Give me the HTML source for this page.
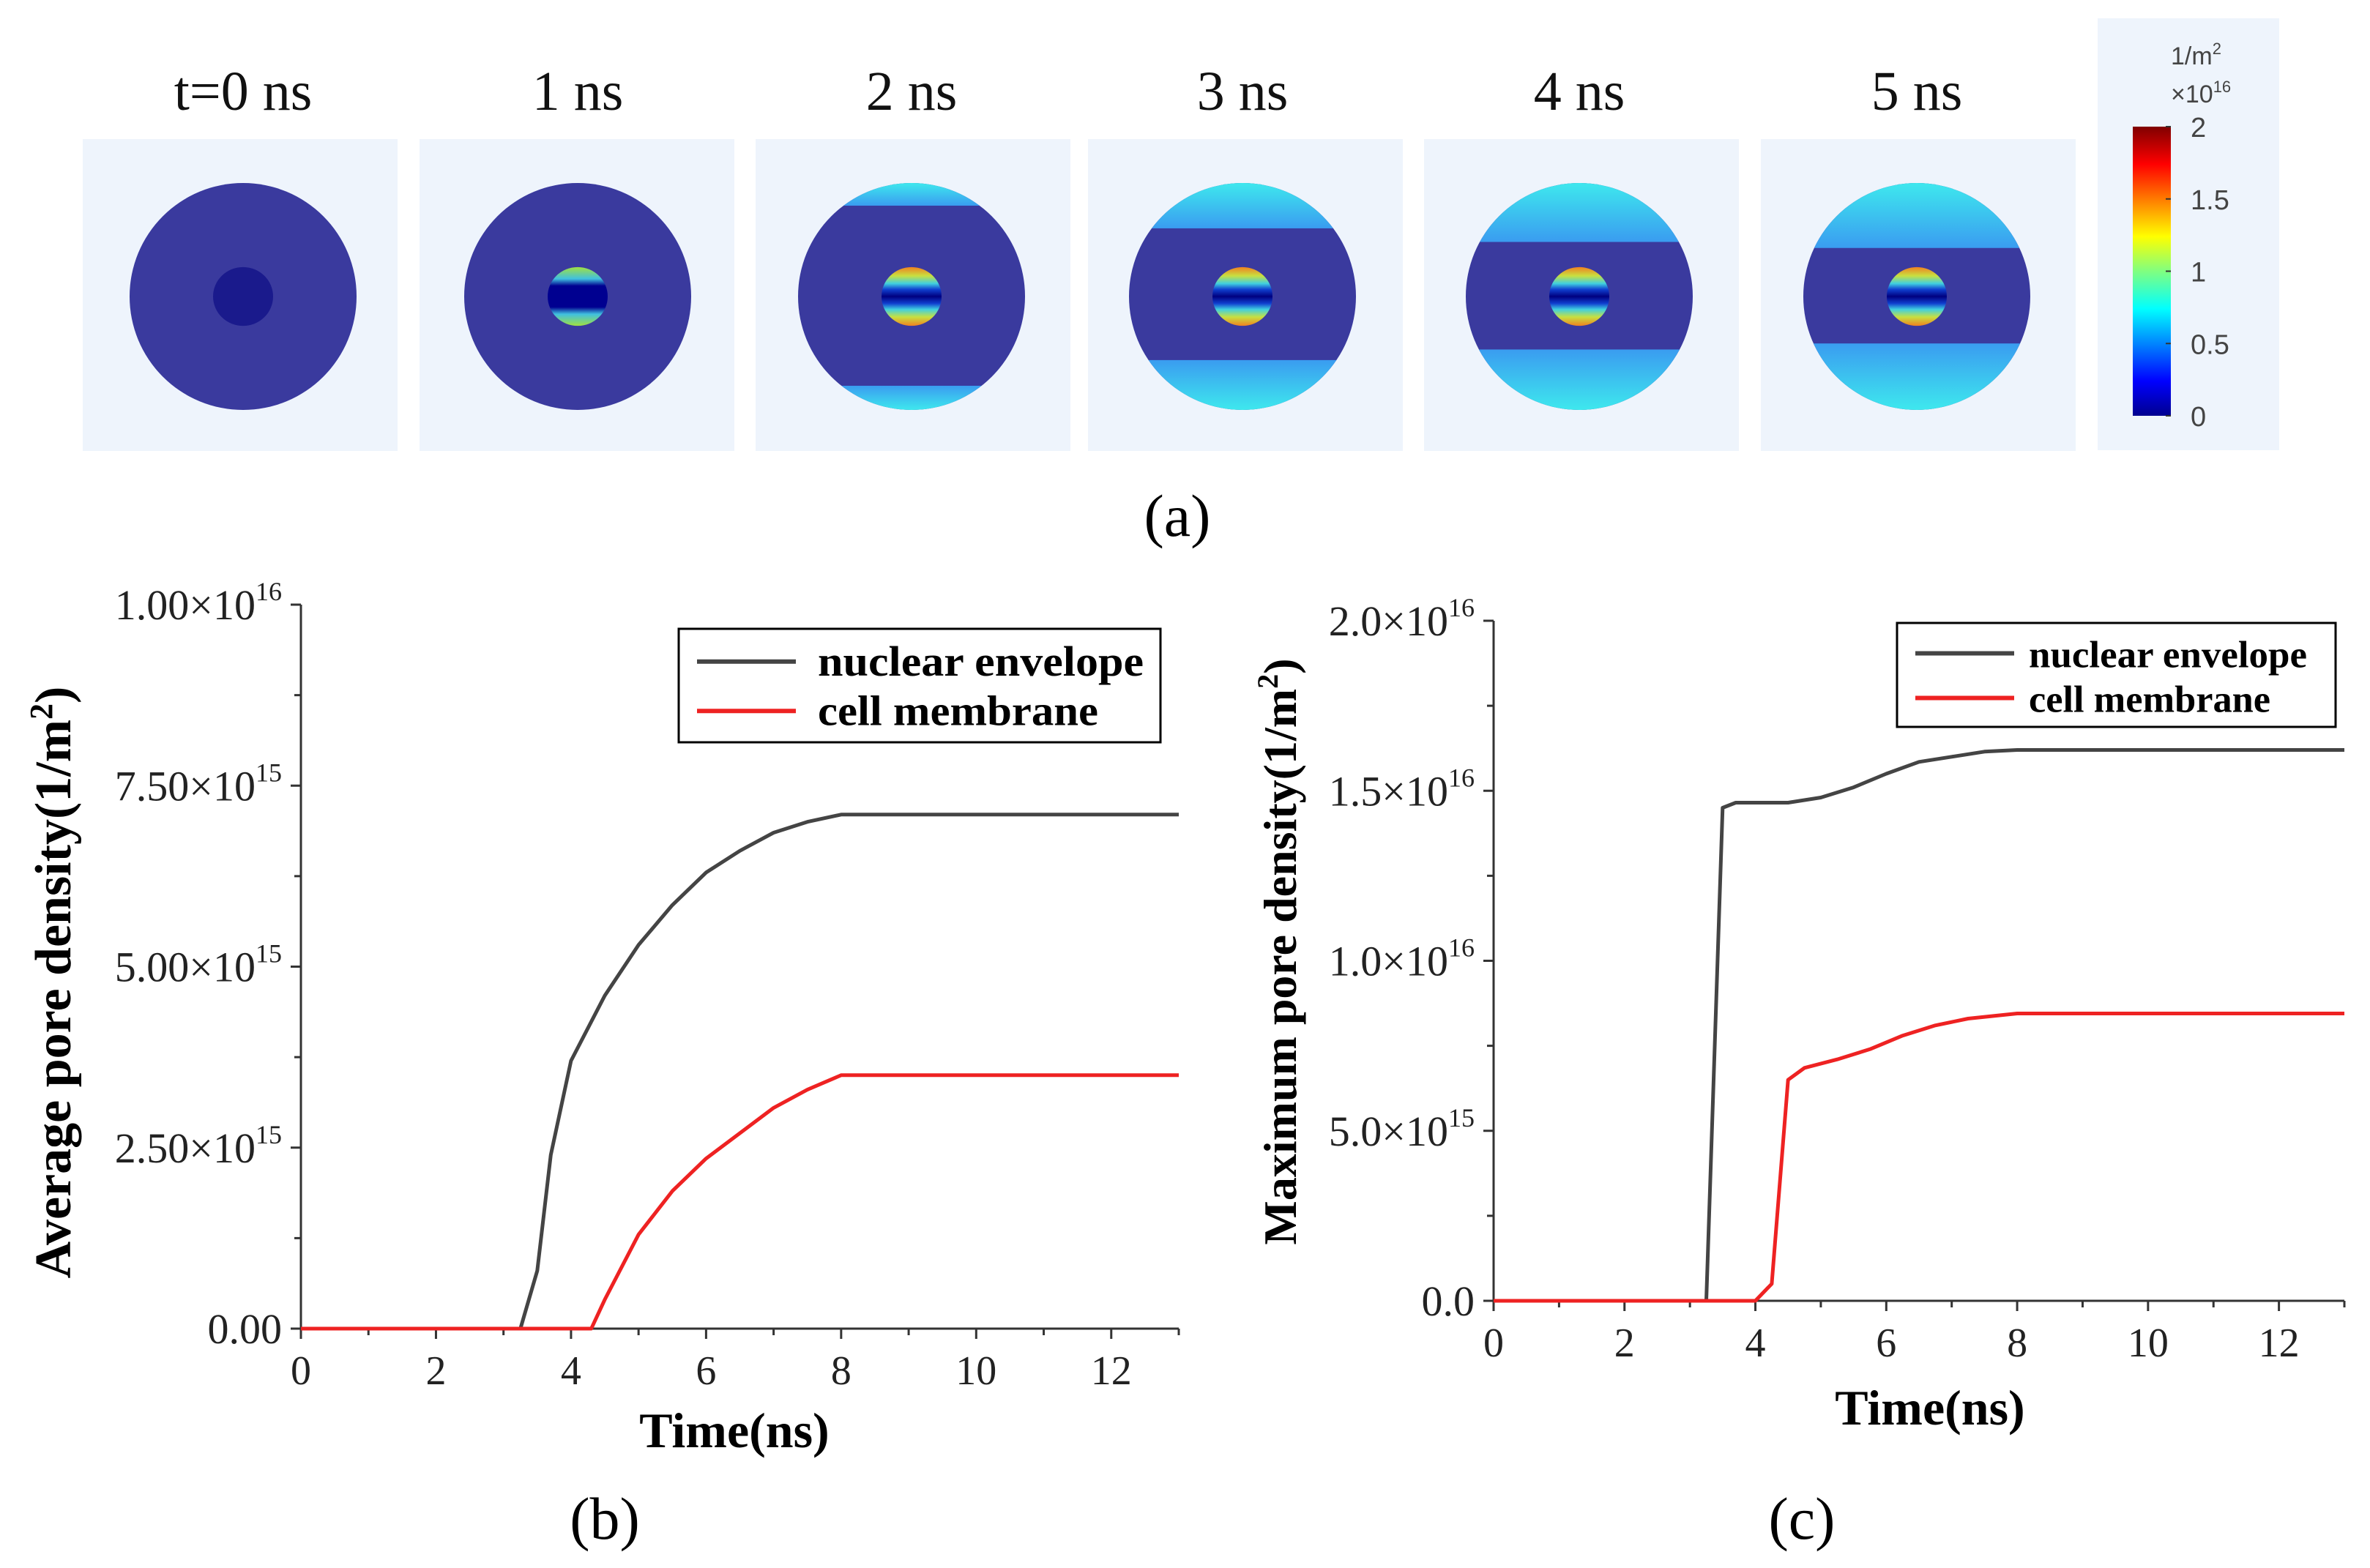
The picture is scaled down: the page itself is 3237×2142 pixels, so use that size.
<!DOCTYPE html>
<html><head><meta charset="utf-8"><style>
html,body{margin:0;padding:0;background:#fff}
svg{display:block;font-family:"Liberation Serif",serif}
text{font-family:"Liberation Serif",serif}
</style></head><body>
<svg id="fig" width="3237" height="2142" viewBox="0 0 3237 2142" xmlns="http://www.w3.org/2000/svg">
<defs>
<linearGradient id="jet" x1="0" y1="1" x2="0" y2="0">
<stop offset="0" stop-color="#00008f"/><stop offset="0.12" stop-color="#0000ff"/><stop offset="0.37" stop-color="#00ffff"/><stop offset="0.5" stop-color="#80ff80"/><stop offset="0.62" stop-color="#ffff00"/><stop offset="0.87" stop-color="#ff0000"/><stop offset="1" stop-color="#800000"/>
</linearGradient>
<linearGradient id="capTop" x1="0" y1="0" x2="0" y2="1"><stop offset="0" stop-color="#3ee8ee"/><stop offset="1" stop-color="#3a9cf0"/></linearGradient>
<linearGradient id="capBot" x1="0" y1="1" x2="0" y2="0"><stop offset="0" stop-color="#3ee8ee"/><stop offset="1" stop-color="#3a9cf0"/></linearGradient>
<linearGradient id="nuc" x1="0" y1="0" x2="0" y2="1">
<stop offset="0" stop-color="#f08020"/><stop offset="0.15" stop-color="#c8e040"/><stop offset="0.28" stop-color="#40d0e0"/><stop offset="0.38" stop-color="#1040d0"/><stop offset="0.5" stop-color="#000080"/><stop offset="0.62" stop-color="#1040d0"/><stop offset="0.72" stop-color="#40d0e0"/><stop offset="0.85" stop-color="#c8e040"/><stop offset="1" stop-color="#f08020"/>
</linearGradient>
<linearGradient id="nuc1" x1="0" y1="0" x2="0" y2="1">
<stop offset="0" stop-color="#a0e040"/><stop offset="0.2" stop-color="#40c0e0"/><stop offset="0.32" stop-color="#000090"/><stop offset="0.68" stop-color="#000090"/><stop offset="0.8" stop-color="#40c0e0"/><stop offset="1" stop-color="#a0e040"/>
</linearGradient>
</defs>
<g id="panelA"></g>
<g id="panelB"></g>
<g id="panelC"></g>
</svg>
<script>
// Panel (a) snapshot data
const snapLabels = ["t=0 ns","1 ns","2 ns","3 ns","4 ns","5 ns"];
const capTopDepth = [0, 0, 15, 30, 39, 43];
const capBotDepth = [0, 0, 16, 33, 40, 44];
// Panel (b)
const timeB = [0,3.25,3.5,3.7,4,4.5,5,5.5,6,6.5,7,7.5,8,13];
const nucB  = [0,0,0.8,2.4,3.7,4.6,5.3,5.85,6.3,6.6,6.85,7.0,7.1,7.1];
const timeBc= [0,4.3,4.5,5,5.5,6,6.5,7,7.5,8,13];
const cellB = [0,0,0.4,1.3,1.9,2.35,2.7,3.05,3.3,3.5,3.5];
const yTicksB = [0,2.5,5,7.5,10];
const yLabelsB = [["0.00",""],["2.50×10","15"],["5.00×10","15"],["7.50×10","15"],["1.00×10","16"]];
// Panel (c)
const timeC = [0,3.25,3.5,3.7,4.5,5,5.5,6,6.5,7,7.5,8,13];
const nucC  = [0,0,14.5,14.65,14.65,14.8,15.1,15.5,15.85,16.0,16.15,16.2,16.2];
const timeCc= [0,4.0,4.25,4.5,4.75,5.25,5.75,6.25,6.75,7.25,8,13];
const cellC = [0,0,0.5,6.5,6.85,7.1,7.4,7.8,8.1,8.3,8.45,8.45];
const yTicksC = [0,5,10,15,20];
const yLabelsC = [["0.0",""],["5.0×10","15"],["1.0×10","16"],["1.5×10","16"],["2.0×10","16"]];
const xTicks = [0,2,4,6,8,10,12];

const NS="http://www.w3.org/2000/svg";
function mk(parent,tag,attrs,text){const e=document.createElementNS(NS,tag);for(const k in attrs)e.setAttribute(k,attrs[k]);if(text!==undefined)e.textContent=text;parent.appendChild(e);return e;}

// ---------- Panel A ----------
const A=document.getElementById('panelA');
const tileX=[113,573,1032,1486,1945,2405];
const cxs=[332,789,1245,1697,2157,2618];
const cy=405,R=155,r=41;
for(let i=0;i<6;i++){
  const tile=mk(A,'rect',{x:tileX[i],y:190,width:430,height:426,fill:'#eef4fc'});
  
  
  const lab=mk(A,'text',{x:cxs[i],y:150,'font-size':76,'text-anchor':'middle',fill:'#111'},snapLabels[i]);
  
  
  const cid='clip'+i;
  const cp=mk(A,'clipPath',{id:cid});mk(cp,'circle',{cx:cxs[i],cy:cy,r:R});
  const g=mk(A,'g',{'clip-path':'url(#'+cid+')'});
  
  
  mk(g,'rect',{x:cxs[i]-R,y:cy-R,width:2*R,height:2*R,fill:'#3a3a9e'});
  const dt=capTopDepth[i]*2.064, db=capBotDepth[i]*2.064;
  if(dt>0){
    mk(g,'rect',{x:cxs[i]-R,y:cy-R,width:2*R,height:dt,fill:'url(#capTop)'});
    mk(g,'rect',{x:cxs[i]-R,y:cy+R-db,width:2*R,height:db,fill:'url(#capBot)'});
  }
  const fillN = i===0?'#1a1a8c':(i===1?'url(#nuc1)':'url(#nuc)');
  mk(g,'ellipse',{cx:cxs[i],cy:cy,rx:r,ry:r*0.98,fill:fillN});
}
const cbp=mk(A,'rect',{x:2865,y:25,width:248,height:590,fill:'#eef4fc'});


const cb=mk(A,'rect',{x:2913,y:173,width:52,height:395,fill:'url(#jet)'});


const cbl=['2','1.5','1','0.5','0'];
for(let k=0;k<5;k++){
  const yy=173+k*98.75;
  mk(A,'line',{x1:2958,x2:2965,y1:yy,y2:yy,stroke:'#333','stroke-width':2});
  const t=mk(A,'text',{x:2992,y:yy+14,'font-size':38,fill:'#444',style:'font-family:Liberation Sans,sans-serif'},cbl[k]);
  
  
}
const u1=mk(A,'text',{x:2965,y:88,'font-size':34,fill:'#444',style:'font-family:Liberation Sans,sans-serif'},'1/m');
mk(u1,'tspan',{'font-size':22,dy:-14},'2');


const u2=mk(A,'text',{x:2965,y:140,'font-size':34,fill:'#444',style:'font-family:Liberation Sans,sans-serif'},'×10');
mk(u2,'tspan',{'font-size':22,dy:-14},'16');


const la=mk(A,'text',{x:1608,y:732,'font-size':82,'text-anchor':'middle',fill:'#000'},'(a)');



// ---------- chart helper ----------
function chart(G,o){
  const sx=v=>o.x0+(v/13)*(o.x1-o.x0);
  const sy=v=>o.y0-(v/o.ymax)*(o.y0-o.y1);
  const ax=mk(G,'path',{d:`M${o.x0} ${o.y1} V${o.y0} H${o.x1}`,fill:'none',stroke:'#333','stroke-width':3});
  
  
  for(let v=0;v<=13;v++){
    const big=v%2===0;
    mk(G,'line',{x1:sx(v),x2:sx(v),y1:o.y0,y2:o.y0+(big?14:9),stroke:'#333','stroke-width':3});
  }
  xTicks.forEach(v=>{
    const t=mk(G,'text',{x:sx(v),y:o.y0+76,'font-size':56,'text-anchor':'middle',fill:'#222'},String(v));
    
    
  });
  const step=o.yticks[1]-o.yticks[0];
  for(let v=0;v<=o.ymax+1e-9;v+=step/2){
    const big=Math.abs((v/step)-Math.round(v/step))<1e-6;
    mk(G,'line',{x1:o.x0-(big?14:9),x2:o.x0,y1:sy(v),y2:sy(v),stroke:'#333','stroke-width':3});
  }
  o.yticks.forEach((v,k)=>{
    const t=mk(G,'text',{x:o.x0-26,y:sy(v)+20,'font-size':58,'text-anchor':'end',fill:'#222'});
    
    
    const lb=o.ylabels[k];
    if(lb[1]){t.appendChild(document.createTextNode(lb[0]));mk(t,'tspan',{'font-size':36,dy:-26},lb[1]);}
    else t.textContent=lb[0];
  });
  function line(xs,ys,col,name){
    const d=xs.map((x,i)=>(i?'L':'M')+sx(x).toFixed(1)+' '+sy(ys[i]).toFixed(1)).join(' ');
    const p=mk(G,'path',{d:d,fill:'none',stroke:col,'stroke-width':5,'stroke-linejoin':'round'});
    
    
  }
  line(o.tn,o.yn,'#444','nuclear-envelope-line');
  line(o.tc,o.yc,'#ee2222','cell-membrane-line');
  const xt=mk(G,'text',{x:o.xtx,y:o.xty,'font-size':68,'font-weight':'bold','text-anchor':'middle',fill:'#000'},'Time(ns)');
  
  
  const yt=mk(G,'text',{x:0,y:0,'font-size':o.ytfs,'font-weight':'bold','text-anchor':'middle',fill:'#000',transform:`translate(${o.ytx},${o.yty}) rotate(-90)`},o.ytitle+'(1/m');
  mk(yt,'tspan',{'font-size':o.ytfs*0.63,dy:-25},'2');
  mk(yt,'tspan',{dy:25},')');
  
  
  const lg=mk(G,'g',{});
  
  
  const L=o.leg;
  mk(lg,'rect',{x:L[0],y:L[1],width:L[2],height:L[3],fill:'#fff',stroke:'#000','stroke-width':3});
  const rowH=L[3]/2;
  [['nuclear  envelope','#444'],['cell membrane','#ee2222']].forEach((e,k)=>{
    const yy=L[1]+rowH*(k+0.5)+(k?-4:6);
    const ent=mk(lg,'g',{});
    
    
    mk(ent,'line',{x1:L[0]+25,x2:L[0]+160,y1:yy,y2:yy,stroke:e[1],'stroke-width':6});
    mk(ent,'text',{x:L[0]+o.legTx,y:yy+19,'font-size':o.legfs,'font-weight':'bold',fill:'#000','xml:space':'preserve',textLength:o.legLen[k],lengthAdjust:'spacingAndGlyphs'},e[0]);
  });
  const cap=mk(G,'text',{x:o.capx,y:2102,'font-size':82,'text-anchor':'middle',fill:'#000'},o.cap);
  
  
}
chart(document.getElementById('panelB'),{x0:411,x1:1610,y0:1815,y1:826,ymax:10,yticks:yTicksB,ylabels:yLabelsB,
  tn:timeB,yn:nucB,tc:timeBc,yc:cellB,xtx:1003,xty:1977,ytx:96,yty:1342,ytfs:70,ytitle:'Average  pore density',
  leg:[927,859,658,155],legLen:[445,383],legTx:190,legfs:58,capx:826,cap:'(b)'});
chart(document.getElementById('panelC'),{x0:2040,x1:3202,y0:1777,y1:848,ymax:20,yticks:yTicksC,ylabels:yLabelsC,
  tn:timeC,yn:nucC,tc:timeCc,yc:cellC,xtx:2636,xty:1946,ytx:1770,yty:1300,ytfs:64,ytitle:'Maximum  pore density',
  leg:[2591,851,599,142],legLen:[380,330],legTx:180,legfs:52,capx:2461,cap:'(c)'});
</script>
</body></html>
